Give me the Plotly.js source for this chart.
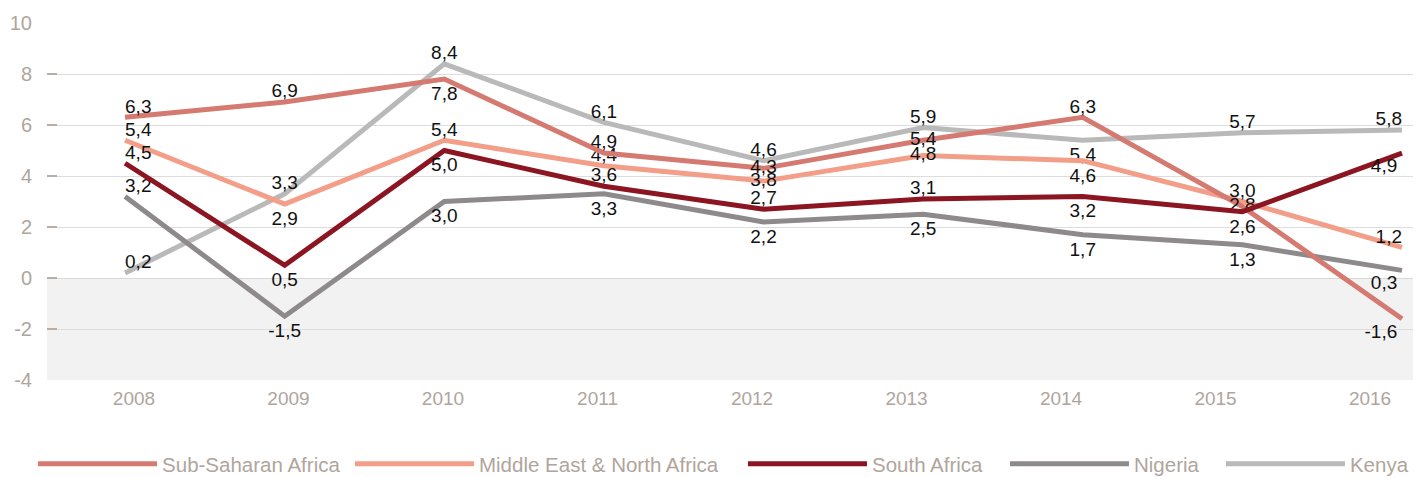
<!DOCTYPE html>
<html>
<head>
<meta charset="utf-8">
<script src="https://cdn.plot.ly/plotly-3.0.1.min.js"></script>
<style>html,body{margin:0;padding:0;background:#fff;}#chart{width:1428px;height:477px;}</style>
</head>
<body>
<div id="chart"></div>
<script>
const years = [2008, 2009, 2010, 2011, 2012, 2013, 2014, 2015, 2016];
const yearLabels = ['2008', '2009', '2010', '2011', '2012', '2013', '2014', '2015', '2016'];
const seriesNames = ['Sub-Saharan Africa', 'Middle East & North Africa', 'South Africa', 'Nigeria', 'Kenya'];
const subSaharanAfrica = [6.3, 6.9, 7.8, 4.9, 4.3, 5.4, 6.3, 2.8, -1.6];
const middleEastNorthAfrica = [5.4, 2.9, 5.4, 4.4, 3.8, 4.8, 4.6, 3.0, 1.2];
const southAfrica = [4.5, 0.5, 5.0, 3.6, 2.7, 3.1, 3.2, 2.6, 4.9];
const nigeria = [3.2, -1.5, 3.0, 3.3, 2.2, 2.5, 1.7, 1.3, 0.3];
const kenya = [0.2, 3.3, 8.4, 6.1, 4.6, 5.9, 5.4, 5.7, 5.8];
const yTicks = [-4, -2, 0, 2, 4, 6, 8, 10];

const colors = ['#d47a70', '#f39e88', '#8b1520', '#8e8a8b', '#b9b9b9'];
const positions = [
  ['top right', 'top center', 'bottom center', 'top center', 'middle center', 'middle center', 'top center', 'middle center', 'bottom left'],
  ['top right', 'bottom center', 'top center', 'top center', 'middle center', 'middle center', 'bottom center', 'top center', 'top left'],
  ['top right', 'bottom center', 'bottom center', 'top center', 'top center', 'top center', 'bottom center', 'bottom center', 'bottom left'],
  ['top right', 'bottom center', 'bottom center', 'bottom center', 'bottom center', 'bottom center', 'bottom center', 'bottom center', 'bottom left'],
  ['top right', 'top center', 'top center', 'top center', 'top center', 'top center', 'bottom center', 'top center', 'top left']
];
const allSeries = [subSaharanAfrica, middleEastNorthAfrica, southAfrica, nigeria, kenya];
const fmt = v => v.toFixed(1).replace('.', ',');

const tickColor = '#b0a59c';
const baseFont = '"Liberation Sans", Arial, Helvetica, sans-serif';
const legendIds = ['legend', 'legend2', 'legend3', 'legend4', 'legend5'];
const legendX = [-0.0102, 0.2218, 0.5095, 0.7013, 0.8594];
// invisible spacer markers push labels placed below the lines a little further down
const spacerFor = p => p === 'bottom center' ? 9 : (p.startsWith('bottom') ? 6 : 0);

const order = [4, 3, 1, 0, 2];
const traces = [];
order.forEach(i => {
  traces.push({
    x: years,
    y: allSeries[i],
    name: seriesNames[i],
    type: 'scatter',
    mode: 'lines+markers+text',
    text: allSeries[i].map(fmt),
    textposition: positions[i],
    textfont: {family: baseFont, size: 19, color: '#111111'},
    line: {color: colors[i], width: 5},
    marker: {size: positions[i].map(spacerFor), color: 'rgba(0,0,0,0)', line: {width: 0}},
    hoverinfo: 'skip',
    legend: legendIds[i],
    cliponaxis: false
  });
});
traces.push({x: [0], y: [null], xaxis: 'x2', yaxis: 'y', showlegend: false, hoverinfo: 'skip', mode: 'lines'});

const layout = {
  width: 1428,
  height: 477,
  margin: {l: 47, r: 15, t: 23, b: 97, autoexpand: false},
  paper_bgcolor: '#ffffff',
  plot_bgcolor: 'rgba(0,0,0,0)',
  showlegend: true,
  font: {family: baseFont, size: 19, color: tickColor},
  xaxis: {
    type: 'linear',
    range: [2007.511, 2016.069],
    showticklabels: false,
    showgrid: false,
    zeroline: false,
    showline: false,
    ticks: '',
    fixedrange: true
  },
  xaxis2: {
    type: 'linear',
    overlaying: 'x',
    side: 'bottom',
    range: [-0.563, 8.278],
    tickmode: 'array',
    tickvals: yearLabels.map((_, k) => k),
    ticktext: yearLabels,
    showgrid: false,
    zeroline: false,
    showline: false,
    ticks: '',
    tickfont: {family: baseFont, size: 19, color: tickColor},
    ticklabelstandoff: 5,
    fixedrange: true
  },
  yaxis: {
    range: [-4, 10],
    tickmode: 'array',
    tickvals: yTicks,
    ticktext: yTicks.map(String),
    showgrid: true,
    gridcolor: '#dddddd',
    gridwidth: 1,
    zeroline: true,
    zerolinecolor: '#d8d8d8',
    zerolinewidth: 1,
    showline: false,
    ticks: 'inside',
    ticklen: 10,
    tickwidth: 1.5,
    tickcolor: '#b8aea6',
    ticklabelstandoff: 14,
    tickfont: {family: baseFont, size: 20, color: tickColor},
    fixedrange: true
  },
  shapes: [{
    type: 'rect', xref: 'paper', yref: 'y', x0: 0, x1: 1, y0: -4, y1: 0,
    fillcolor: '#f2f2f2', line: {width: 0}, layer: 'below'
  }]
};
legendIds.forEach((id, k) => {
  layout[id] = {
    orientation: 'h',
    x: legendX[k],
    xanchor: 'left',
    y: -0.235,
    yanchor: 'middle',
    itemwidth: 119,
    font: {family: baseFont, size: 20.5, color: tickColor},
    bgcolor: 'rgba(0,0,0,0)'
  };
});

Plotly.newPlot('chart', traces, layout, {displayModeBar: false, staticPlot: true});
</script>
</body>
</html>
